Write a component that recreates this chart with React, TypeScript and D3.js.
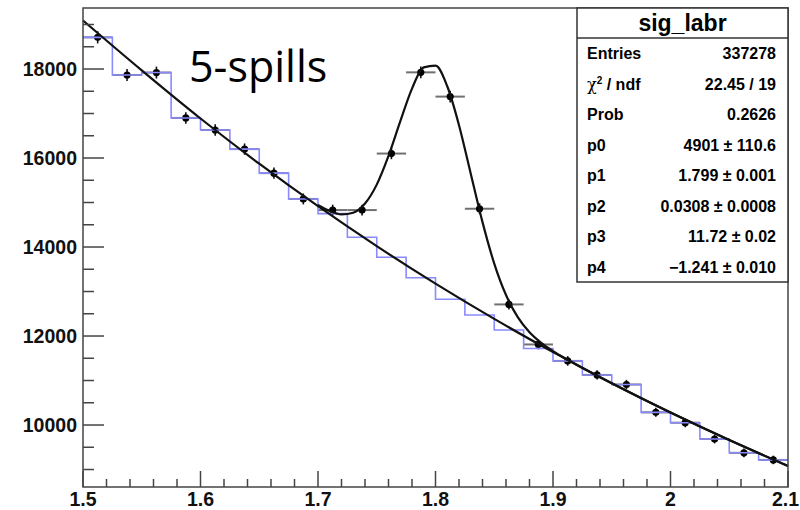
import React from 'react';
import * as d3 from 'd3';

// ---- data ----
const binLow = [1.5, 1.525, 1.55, 1.575, 1.6, 1.625, 1.65, 1.675, 1.7, 1.725, 1.75, 1.775, 1.8, 1.825, 1.85, 1.875, 1.9, 1.925, 1.95, 1.975, 2.0, 2.025, 2.05, 2.075];
const binWidth = 0.025;
const counts = [18712, 17865, 17920, 16900, 16630, 16200, 15660, 15080, 14830, 14830, 16100, 17925, 17380, 14860, 12710, 11810, 11440, 11125, 10910, 10285, 10052, 9685, 9375, 9215];
const countErr = [137, 134, 134, 130, 129, 127, 125, 123, 122, 122, 127, 134, 132, 122, 113, 109, 107, 105, 104, 101, 100, 98, 97, 96];
const refCounts = [18712, 17865, 17920, 16900, 16630, 16200, 15660, 15080, 14750, 14218, 13769, 13310, 12825, 12472, 12135, 11720, 11440, 11125, 10910, 10285, 10052, 9685, 9375, 9215];

const bgX = [1.5, 1.55, 1.6, 1.65, 1.7, 1.75, 1.8, 1.85, 1.9, 1.95, 2.0, 2.05, 2.1];
const bgY = [19090, 17969, 16888, 15872, 14917, 14020, 13176, 12384, 11639, 10938, 10280, 9662, 9080];

const fitX = [1.7, 1.71, 1.72, 1.73, 1.74, 1.75, 1.76, 1.77, 1.78, 1.79, 1.8, 1.81, 1.82, 1.83, 1.84, 1.85, 1.86, 1.87, 1.88, 1.89, 1.9, 1.91, 1.92, 1.95, 2.0, 2.05, 2.1];
const fitY = [14945, 14808, 14734, 14771, 14977, 15402, 16046, 16822, 17560, 18037, 18074, 17612, 16738, 15648, 14559, 13628, 12921, 12424, 12085, 11846, 11662, 11503, 11356, 10938, 10280, 9662, 9080];

const xTickValues = [1.5, 1.6, 1.7, 1.8, 1.9, 2.0, 2.1];
const xTickLabels = ['1.5', '1.6', '1.7', '1.8', '1.9', '2', '2.1'];
const yTickValues = [10000, 12000, 14000, 16000, 18000];
const yTickLabels = ['10000', '12000', '14000', '16000', '18000'];

const statsTitle = 'sig_labr';
const statsNames = ['Entries', 'chi2', 'Prob', 'p0', 'p1', 'p2', 'p3', 'p4'];
const statsValues = ['337278', '22.45 / 19', '0.2626', '4901 \u00b1 110.6', '1.799 \u00b1 0.001', '0.0308 \u00b1 0.0008', '11.72 \u00b1 0.02', '\u22121.241 \u00b1 0.010'];
const label = '5-spills';

// ---- layout ----
const W = 800, H = 510;
const L = 83, R = 788, T = 8, B = 487;

export default function App() {
  const x = d3.scaleLinear().domain([1.5, 2.1]).range([L, R]);
  const y = d3.scaleLinear().domain([8607, 19371]).range([B, T]);

  const xMinor = d3.range(0, 31).map((i) => 1.5 + i * 0.02);
  const yMinor = d3.range(9000, 19500, 500);

  const stepPts: [number, number][] = [];
  refCounts.forEach((c, i) => {
    stepPts.push([x(binLow[i]), y(c)]);
    stepPts.push([x(binLow[i] + binWidth), y(c)]);
  });
  const stepPath = d3.line()(stepPts) as string;

  const curve = d3.line<[number, number]>().x((d) => x(d[0])).y((d) => y(d[1])).curve(d3.curveMonotoneX);
  const bgPath = curve(bgX.map((v, i) => [v, bgY[i]])) as string;
  const fitPath = curve(fitX.map((v, i) => [v, fitY[i]])) as string;

  const fontAxis = "'Liberation Sans', Arial, Helvetica, sans-serif";
  const axisColor = '#444';

  const boxL = 577, boxT = 8, boxR = 788, boxB = 282, sep = 38;
  const rowH = (boxB - sep) / statsNames.length;

  return (
    <svg width={W} height={H} style={{ position: 'absolute', left: 0, top: 0, background: '#fff' }}>
      <rect x={0} y={0} width={W} height={H} fill="#fff" />

      <g>
        {counts.map((c, i) => {
          const cx = x(binLow[i] + binWidth / 2);
          return (
            <g key={i}>
              <line x1={x(binLow[i])} x2={x(binLow[i] + binWidth)} y1={y(c)} y2={y(c)} stroke="#707070" strokeWidth={2} />
              <line x1={cx} x2={cx} y1={y(c - countErr[i])} y2={y(c + countErr[i])} stroke="#111" strokeWidth={1.6} />
              <circle cx={cx} cy={y(c)} r={3.6} fill="#000" />
            </g>
          );
        })}
      </g>

      <path d={stepPath} fill="none" stroke="#8a8aff" strokeWidth={1.6} />

      <path d={bgPath} fill="none" stroke="#111" strokeWidth={2.2} />
      <path d={fitPath} fill="none" stroke="#111" strokeWidth={2.2} />

      <rect x={L} y={T} width={R - L} height={B - T} fill="none" stroke={axisColor} strokeWidth={1.5} />

      {yMinor.map((v) => (
        <line key={'ym' + v} x1={L} x2={L + (v % 2000 === 0 ? 21 : 11)} y1={y(v)} y2={y(v)} stroke={axisColor} strokeWidth={1.5} />
      ))}
      {yTickValues.map((v, i) => (
        <text key={'yl' + v} x={L - 6} y={y(v)} dy="0.36em" textAnchor="end" fontFamily={fontAxis} fontWeight="bold" fontSize={19.5} fill="#111">
          {yTickLabels[i]}
        </text>
      ))}

      {xMinor.map((v, i) => (
        <line key={'xm' + i} x1={x(v)} x2={x(v)} y1={B} y2={B - (i % 5 === 0 ? 16 : 8)} stroke={axisColor} strokeWidth={1.5} />
      ))}
      {xTickValues.map((v, i) => {
        const last = i === xTickValues.length - 1;
        return (
          <text key={'xl' + i} x={last ? W - 1 : x(v)} y={506} textAnchor={last ? 'end' : 'middle'} fontFamily={fontAxis} fontWeight="bold" fontSize={19.5} fill="#111">
            {xTickLabels[i]}
          </text>
        );
      })}

      <text x={189} y={82} fontFamily="'Open Sans', 'Noto Sans', sans-serif" fontSize={43} fill="#000">{label}</text>

      <rect x={boxL} y={boxT} width={boxR - boxL} height={boxB - boxT} fill="#fff" stroke="#333" strokeWidth={1.5} />
      <line x1={boxL} x2={boxR} y1={sep} y2={sep} stroke="#333" strokeWidth={1.5} />
      <text x={(boxL + boxR) / 2} y={(boxT + sep) / 2} dy="0.36em" textAnchor="middle" fontFamily={fontAxis} fontWeight="bold" fontSize={23} fill="#000">
        {statsTitle}
      </text>
      {statsNames.map((n, i) => {
        const cy = sep + rowH * (i + 0.5);
        return (
          <g key={'s' + i} fontFamily={fontAxis} fontSize={16} fill="#000">
            <text x={587} y={cy} dy="0.36em" fontWeight="bold">
              {n === 'chi2' ? (
                <>
                  <tspan fontWeight="normal" fontFamily="'DejaVu Serif', serif">{'\u03c7'}</tspan>
                  <tspan fontSize={10} dy="-0.6em">2</tspan>
                  <tspan dy="0.38em">{' / ndf'}</tspan>
                </>
              ) : n}
            </text>
            <text x={776} y={cy} dy="0.36em" textAnchor="end" fontWeight="bold">{statsValues[i]}</text>
          </g>
        );
      })}
    </svg>
  );
}
